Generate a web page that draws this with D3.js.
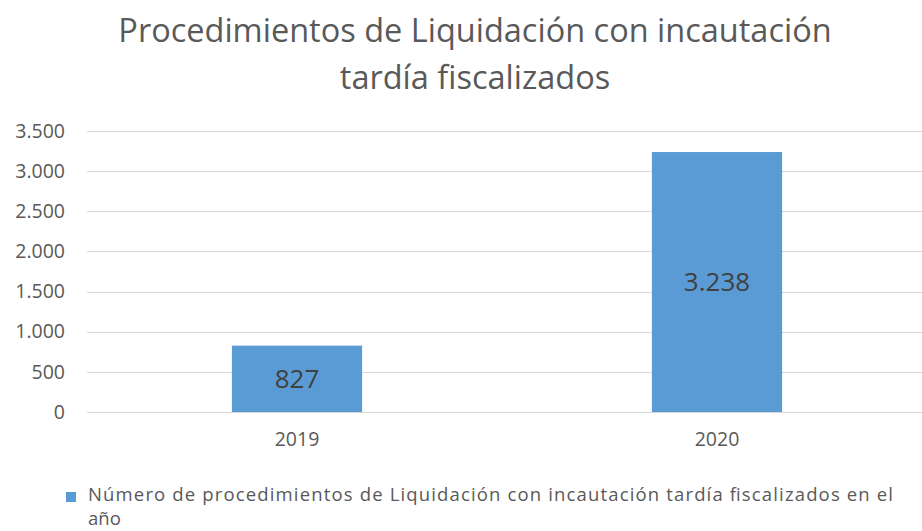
<!DOCTYPE html>
<html>
<head>
<meta charset="utf-8">
<script src="https://cdn.jsdelivr.net/npm/d3@7"></script>
<style>
  body { margin: 0; background: #fff; }
  text { font-family: "Open Sans", sans-serif; }
</style>
</head>
<body>
<div id="chart"></div>
<script>
// Data
var years = ["2019", "2020"];
var values = [827, 3238];
var yTicks = [0, 500, 1000, 1500, 2000, 2500, 3000, 3500];
var titleLines = ["Procedimientos de Liquidación con incautación", "tardía fiscalizados"];
var legendLines = ["Número de procedimientos de Liquidación con incautación tardía fiscalizados en el", "año"];

var svgWidth = 922;
var svgHeight = 531;

var margin = { top: 131, right: -5, bottom: 119, left: 87 };
var width = svgWidth - margin.left - margin.right;
var height = svgHeight - margin.top - margin.bottom;

var fmt = function(d) { return d3.format(",")(d).replace(/,/g, "."); };

var svg = d3.select("#chart")
  .append("svg")
  .attr("width", svgWidth)
  .attr("height", svgHeight);

// title
svg.append("g").selectAll("text")
  .data(titleLines)
  .enter().append("text")
  .attr("x", 475)
  .attr("y", (d, i) => 42 + i * 47)
  .attr("text-anchor", "middle")
  .attr("font-size", 32.5)
  .attr("fill", "#595959")
  .text(d => d);

var chartGroup = svg.append("g")
  .attr("transform", `translate(${margin.left}, ${margin.top})`);

var xScale = d3.scaleBand()
  .domain(years)
  .range([0, width]);

var yScale = d3.scaleLinear()
  .domain([0, 3500])
  .range([height, 0]);

// gridlines
chartGroup.append("g")
  .selectAll("line")
  .data(yTicks)
  .enter().append("line")
  .attr("x1", 0)
  .attr("x2", width)
  .attr("y1", d => Math.round(yScale(d)) + 0.5)
  .attr("y2", d => Math.round(yScale(d)) + 0.5)
  .attr("stroke", "#d9d9d9")
  .attr("stroke-width", 1);

// y axis labels
var leftAxis = d3.axisLeft(yScale)
  .tickValues(yTicks)
  .tickFormat(fmt)
  .tickSize(0)
  .tickPadding(22);

var yAxisG = chartGroup.append("g").call(leftAxis);
yAxisG.select(".domain").remove();
yAxisG.selectAll("text")
  .attr("font-family", "Open Sans, sans-serif")
  .attr("font-size", 19.5)
  .attr("fill", "#595959");

// x axis labels
var bottomAxis = d3.axisBottom(xScale).tickSize(0).tickPadding(20);
var xAxisG = chartGroup.append("g")
  .attr("transform", `translate(0, ${height})`)
  .call(bottomAxis);
xAxisG.select(".domain").remove();
xAxisG.selectAll("text")
  .attr("font-family", "Open Sans, sans-serif")
  .attr("font-size", 19.5)
  .attr("fill", "#595959");

// bars
var barW = xScale.bandwidth() * 0.31;
chartGroup.selectAll(".bar")
  .data(values)
  .enter().append("rect")
  .attr("class", "bar")
  .attr("x", (d, i) => xScale(years[i]) + xScale.bandwidth() / 2 - barW / 2)
  .attr("width", barW)
  .attr("y", d => yScale(d))
  .attr("height", d => height - yScale(d))
  .attr("fill", "#5b9bd5");

// data labels
chartGroup.selectAll(".lbl")
  .data(values)
  .enter().append("text")
  .attr("class", "lbl")
  .attr("x", (d, i) => xScale(years[i]) + xScale.bandwidth() / 2)
  .attr("y", d => (yScale(d) + height) / 2)
  .attr("dy", "0.35em")
  .attr("text-anchor", "middle")
  .attr("font-size", 26)
  .attr("fill", "#404040")
  .text(d => fmt(d));

// legend
svg.append("rect")
  .attr("x", 66)
  .attr("y", 492)
  .attr("width", 10)
  .attr("height", 10)
  .attr("fill", "#5b9bd5");

svg.append("g").selectAll("text")
  .data(legendLines)
  .enter().append("text")
  .attr("x", 88)
  .attr("y", (d, i) => 501 + i * 24)
  .attr("font-size", 18.5)
  .attr("fill", "#595959")
  .attr("textLength", (d, i) => i === 0 ? 805 : null)
  .attr("lengthAdjust", "spacing")
  .text(d => d);
</script>
</body>
</html>
